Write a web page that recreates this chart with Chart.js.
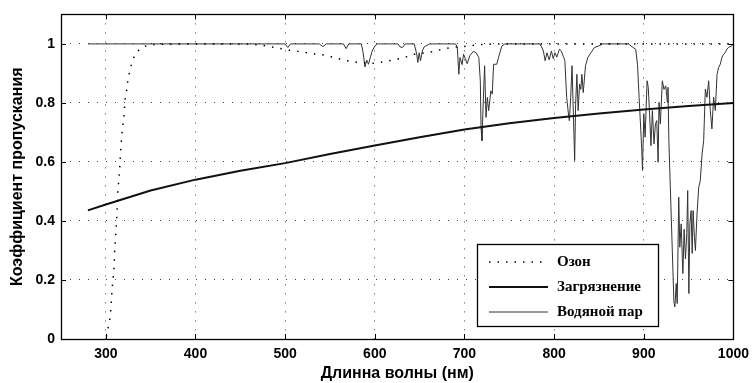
<!DOCTYPE html>
<html>
<head>
<meta charset="utf-8">
<script src="https://cdn.jsdelivr.net/npm/chart.js@4.4.1/dist/chart.umd.min.js"></script>
<style>
  html, body { margin: 0; padding: 0; background: #fff; }
  canvas { display: block; }
</style>
</head>
<body>
<canvas id="chart" width="756" height="383"></canvas>
<script>
// Оси
const xTicks = [300, 400, 500, 600, 700, 800, 900, 1000];
const yTicks = [0, 0.2, 0.4, 0.6, 0.8, 1];

// Озон (нм / коэффициент)
const ozoneNm = [300.6, 302.4, 304.3, 305.4, 306.8, 307.9, 309, 309.8, 310.5, 311.7, 312.3, 313.5, 314.6, 315.3,
                 316.4, 317.9, 319, 320.1, 321.6, 323.4, 324.5, 326.4, 328.3, 331.2, 333.8, 339.4, 345, 352,
                 400, 456, 470, 485, 503.6, 526, 545, 565, 580, 600, 616, 625, 635, 644, 656, 666, 675, 686,
                 705, 714, 725, 740, 1000];
const ozoneT  = [0.008, 0.036, 0.064, 0.095, 0.16, 0.2, 0.233, 0.295, 0.329, 0.385, 0.419, 0.509, 0.54, 0.571,
                 0.633, 0.693, 0.723, 0.753, 0.815, 0.845, 0.875, 0.903, 0.928, 0.954, 0.969, 0.988, 0.993, 0.998,
                 1, 1, 0.997, 0.99, 0.979, 0.969, 0.962, 0.945, 0.938, 0.934, 0.943, 0.948, 0.956, 0.965, 0.97, 0.974,
                 0.982, 0.988, 0.993, 0.997, 0.999, 1, 1];

// Загрязнение
const pollNm = [280, 300, 350, 400, 450, 500, 550, 600, 650, 700, 750, 800, 850, 900, 950, 1000];
const pollT  = [0.436, 0.456, 0.503, 0.54, 0.57, 0.596, 0.627, 0.656, 0.684, 0.71, 0.731, 0.749, 0.764, 0.778, 0.79, 0.8];

// Водяной пар
const vaporNm = [280, 500, 503, 506, 538, 542, 546, 565, 568, 571, 585, 587, 589, 591, 593, 595, 597, 600, 603,
                 626, 628, 631, 634, 644, 646.8, 648, 649.5, 651, 653, 655, 658, 661,
                 690, 692, 693.7, 695, 697.4, 699, 701, 703, 706, 710, 713, 716, 717.7, 718.5, 719.5, 721.4, 722.5,
                 724, 725.5, 727, 729.5, 731, 732.5, 736, 738, 741.7, 745,
                 784, 786, 788, 790, 792, 794.5, 797, 799, 801, 803, 806, 808, 810.7, 812, 814, 816, 817, 818.5, 820,
                 821.5, 822.9, 824, 825.4, 826.8, 828.4, 829.8, 831, 832.5, 835, 837.6, 841, 845, 850, 854,
                 883, 887, 891, 893, 894.8, 896.7, 897.6, 898.6, 900, 901.5, 903.7, 905, 906.5, 908, 909.6, 911.4,
                 913, 914.5, 916, 917, 918.5, 920.7, 922.5, 924.5, 926.3, 927, 928, 933.6, 934.7, 936.2, 937.3, 939,
                 940.2, 941.7, 943.6, 945, 946.5, 948, 949, 950.3, 951.4, 952.8, 954, 955, 956.5, 957.6, 959.4,
                 961.3, 963, 965, 966.8, 968.7, 970.5, 972.4, 974.2, 976, 977.9, 979.8, 981.7, 983.5, 985.3, 987.2,
                 989, 990.8, 992.7, 994.5, 998, 1000];
const vaporT  = [1, 1, 0.988, 1, 1, 0.991, 1, 1, 0.984, 1, 1, 0.97, 0.922, 0.945, 0.931, 0.954, 0.975, 0.993, 1,
                 1, 0.99, 0.988, 1, 1, 0.965, 0.937, 0.97, 0.943, 0.976, 0.99, 0.995, 1,
                 1, 0.99, 0.897, 0.954, 0.93, 0.965, 0.95, 0.933, 0.96, 0.975, 0.97, 0.954, 0.875, 0.717, 0.672, 0.841,
                 0.926, 0.751, 0.819, 0.774, 0.841, 0.83, 0.931, 0.931, 0.954, 0.993, 1,
                 1, 0.99, 0.976, 0.943, 0.97, 0.946, 0.976, 0.95, 0.97, 0.955, 0.982, 0.976, 0.954, 0.943, 0.819, 0.762,
                 0.74, 0.819, 0.926, 0.762, 0.605, 0.796, 0.897, 0.774, 0.864, 0.846, 0.897, 0.835, 0.926, 0.954, 0.97,
                 0.988, 0.993, 1,
                 1, 0.99, 0.982, 0.931, 0.819, 0.706, 0.65, 0.571, 0.762, 0.684, 0.875, 0.853, 0.762, 0.655, 0.774,
                 0.661, 0.729, 0.74, 0.599, 0.802, 0.729, 0.875, 0.846, 0.858, 0.802, 0.853, 0.672, 0.126, 0.109,
                 0.188, 0.12, 0.481, 0.311, 0.39, 0.222, 0.372, 0.271, 0.361, 0.503, 0.154, 0.39, 0.435, 0.29, 0.435,
                 0.345, 0.3, 0.424, 0.514, 0.536, 0.627, 0.672, 0.847, 0.819, 0.875, 0.774, 0.712, 0.819, 0.774, 0.897,
                 0.92, 0.931, 0.954, 0.965, 0.97, 0.982, 0.988, 0.993, 1];

const seriesNames = ['Озон', 'Загрязнение', 'Водяной пар'];

function toPoints(xs, ys) {
    return xs.map((x, i) => ({ x: x, y: ys[i] }));
}

const TICK_FONT = { family: '"Liberation Sans", Arial, sans-serif', size: 14, weight: 'bold' };
const TITLE_FONT = { family: '"Liberation Sans", Arial, sans-serif', size: 16, weight: 'bold' };

// рамка с внутренними рисками со всех сторон
const boxPlugin = {
    id: 'box',
    afterDraw(chart) {
        const { ctx, chartArea: a, scales } = chart;
        ctx.save();
        ctx.strokeStyle = '#000';
        ctx.lineWidth = 1;
        ctx.beginPath();
        xTicks.forEach(v => {
            const px = Math.round(scales.x.getPixelForValue(v)) + 0.5;
            ctx.moveTo(px, a.bottom); ctx.lineTo(px, a.bottom - 5);
            ctx.moveTo(px, a.top); ctx.lineTo(px, a.top + 5);
        });
        yTicks.forEach(v => {
            const py = Math.round(scales.y.getPixelForValue(v)) + 0.5;
            ctx.moveTo(a.left, py); ctx.lineTo(a.left + 5, py);
            ctx.moveTo(a.right, py); ctx.lineTo(a.right - 5, py);
        });
        ctx.stroke();
        ctx.lineWidth = 1.3;
        ctx.strokeRect(Math.round(a.left) + 0.5, Math.round(a.top) + 0.5,
                       Math.round(a.right - a.left), Math.round(a.bottom - a.top));
        ctx.restore();
    }
};

// легенда внутри области графика
const legendPlugin = {
    id: 'boxLegend',
    afterDraw(chart) {
        const ctx = chart.ctx;
        const bx = 477, by = 244, bw = 181, bh = 82;
        ctx.save();
        ctx.fillStyle = '#fff';
        ctx.fillRect(bx, by, bw, bh);
        ctx.strokeStyle = '#000';
        ctx.lineWidth = 1.3;
        ctx.strokeRect(bx + 0.5, by + 0.5, bw, bh);
        chart.data.datasets.forEach((ds, i) => {
            const y = by + 18 + i * 25;
            ctx.beginPath();
            ctx.setLineDash(ds.borderDash || []);
            ctx.strokeStyle = ds.borderColor;
            ctx.lineWidth = ds.borderWidth;
            ctx.moveTo(bx + 12, y);
            ctx.lineTo(bx + 71, y);
            ctx.stroke();
            ctx.setLineDash([]);
            ctx.fillStyle = '#000';
            ctx.font = 'bold 15px "Liberation Serif", "Times New Roman", serif';
            ctx.textBaseline = 'middle';
            ctx.fillText(ds.label, bx + 80, y);
        });
        ctx.restore();
    }
};

new Chart(document.getElementById('chart'), {
    type: 'scatter',
    data: {
        datasets: [
            {
                label: seriesNames[0],
                data: toPoints(ozoneNm, ozoneT),
                showLine: true,
                borderColor: '#000',
                borderWidth: 1.5,
                borderDash: [1.5, 7],
                pointRadius: 0
            },
            {
                label: seriesNames[1],
                data: toPoints(pollNm, pollT),
                showLine: true,
                borderColor: '#111',
                borderWidth: 2,
                pointRadius: 0
            },
            {
                label: seriesNames[2],
                data: toPoints(vaporNm, vaporT),
                showLine: true,
                borderColor: '#333',
                borderWidth: 1,
                pointRadius: 0
            }
        ]
    },
    options: {
        responsive: false,
        animation: false,
        devicePixelRatio: 1,
        layout: { padding: { left: 0, right: 18, top: 13, bottom: 0 } },
        plugins: {
            legend: { display: false },
            tooltip: { enabled: false }
        },
        scales: {
            x: {
                type: 'linear',
                min: 250,
                max: 1000,
                afterBuildTicks: s => { s.ticks = xTicks.map(v => ({ value: v })); },
                afterFit: s => { s.height = 44; },
                grid: { color: '#444', drawTicks: false, lineWidth: 1 },
                border: { display: false, dash: [1, 8] },
                ticks: { color: '#000', font: TICK_FONT, padding: 7, maxRotation: 0, autoSkip: false, callback: v => String(v) },
                title: {
                    display: true,
                    text: 'Длинна волны (нм)',
                    color: '#000',
                    font: TITLE_FONT,
                    padding: { top: 0, bottom: 0 }
                }
            },
            y: {
                min: 0,
                max: 1.1,
                afterBuildTicks: s => { s.ticks = yTicks.map(v => ({ value: v })); },
                afterFit: s => { s.width = 61; },
                grid: { color: '#444', drawTicks: false, lineWidth: 1 },
                border: { display: false, dash: [1, 8] },
                ticks: { color: '#000', font: TICK_FONT, padding: 6, autoSkip: false, callback: v => String(v) },
                title: {
                    display: true,
                    text: 'Коэффициент пропускания',
                    color: '#000',
                    font: TITLE_FONT,
                    padding: { top: 8, bottom: 0 }
                }
            }
        }
    },
    plugins: [boxPlugin, legendPlugin]
});
</script>
</body>
</html>
